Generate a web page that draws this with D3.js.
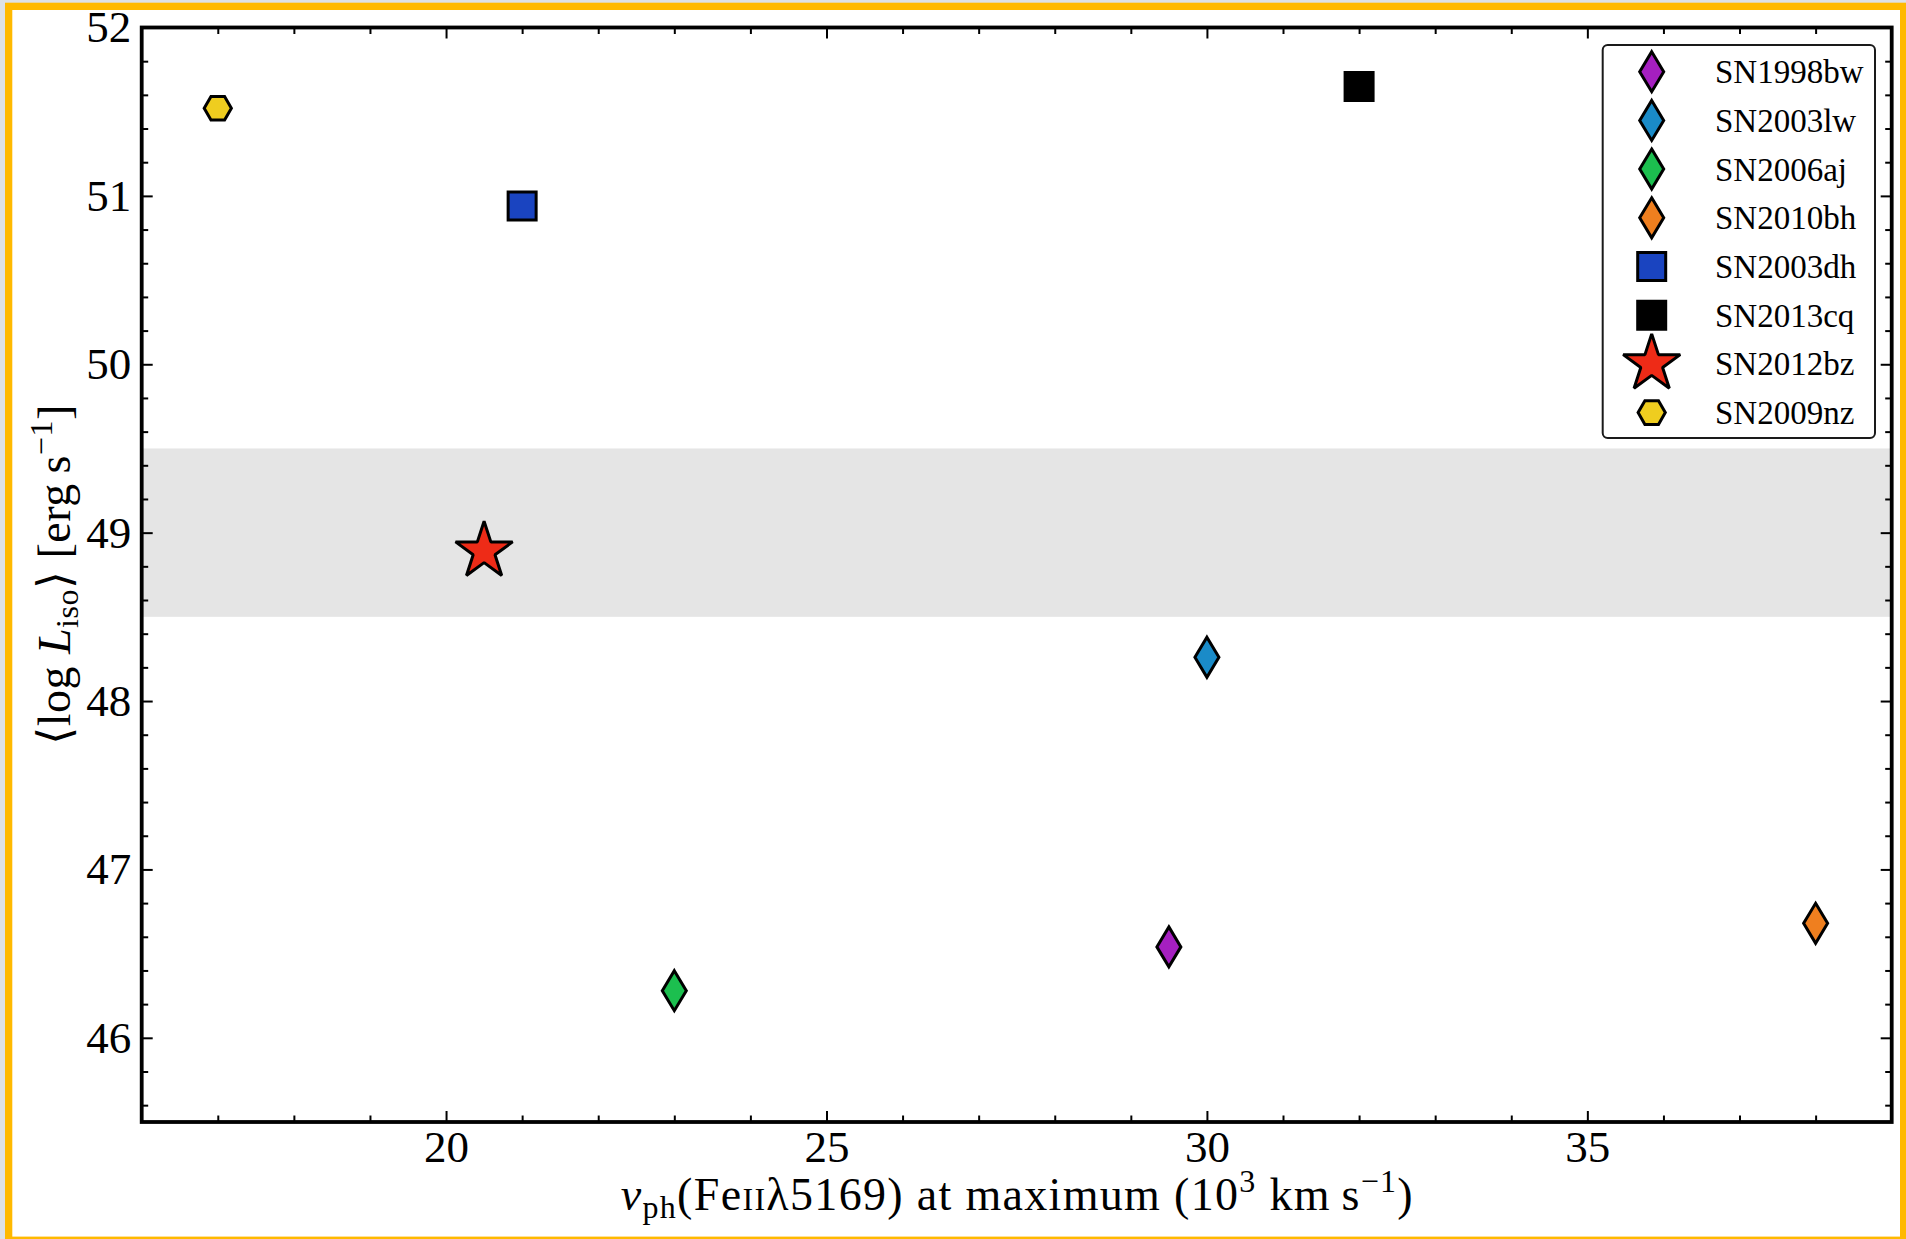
<!DOCTYPE html>
<html>
<head>
<meta charset="utf-8">
<script src="https://cdn.jsdelivr.net/npm/d3@7"></script>
<style>
  html, body { margin: 0; padding: 0; background: #dde1e6; }
  svg { display: block; }
  text { font-family: "Liberation Serif", "DejaVu Serif", serif; fill: #000; }
</style>
</head>
<body>
<svg id="chart" width="1906" height="1239"></svg>
<script>
// ---------------- data ----------------
const names = ["SN1998bw", "SN2003lw", "SN2006aj", "SN2010bh", "SN2003dh", "SN2013cq", "SN2012bz", "SN2009nz"];
const velocities = [29.5, 30.0, 23.0, 38.0, 21.0, 32.0, 20.5, 17.0];        // 10^3 km/s
const logLiso = [46.54, 48.26, 46.28, 46.68, 50.94, 51.65, 48.89, 51.52];   // erg/s
const markerShapes = ["diamond", "diamond", "diamond", "diamond", "square", "square", "star", "hexagon"];
const markerColors = ["#a51fc0", "#1a8bc8", "#1cbf4f", "#ef7f1f", "#1a44c0", "#000000", "#ee2b17", "#efcd1f"];
const xTickValues = [20, 25, 30, 35];
const yTickValues = [46, 47, 48, 49, 50, 51, 52];
const xDomain = [16, 39];
const yDomain = [45.5, 52];
const bandRange = [48.5, 49.5];

// ---------------- layout ----------------
const svg = d3.select("#chart");
const W = 1906, H = 1239;
const plot = { left: 141.7, right: 1891.7, top: 27.5, bottom: 1122 };

// outer orange frame
svg.append("rect").attr("x", 5).attr("y", 2.7).attr("width", W + 10).attr("height", H + 10).attr("fill", "#ffb900");
svg.append("rect").attr("x", 12.3).attr("y", 10).attr("width", 1900 - 12.3).attr("height", 1236.6 - 10).attr("fill", "#ffffff");

const x = d3.scaleLinear().domain(xDomain).range([plot.left, plot.right]);
const y = d3.scaleLinear().domain(yDomain).range([plot.bottom, plot.top]);

// grey band
svg.append("rect")
  .attr("x", x(xDomain[0])).attr("width", x(xDomain[1]) - x(xDomain[0]))
  .attr("y", y(bandRange[1])).attr("height", y(bandRange[0]) - y(bandRange[1]))
  .attr("fill", "#e5e5e5");

// minor tick values
const xMinor = d3.range(17, 39, 1).filter(v => !xTickValues.includes(v));
const yMinor = d3.range(456, 520, 2).map(v => v / 10).filter(v => !yTickValues.some(t => Math.abs(t - v) < 1e-6));

function styleAxis(g) {
  g.select(".domain").remove();
  g.selectAll(".tick line").attr("stroke", "#000").attr("stroke-width", 2);
  g.selectAll(".tick text").attr("font-size", 45).attr("font-family", '"Liberation Serif", "DejaVu Serif", serif');
}

const MAJ = 11, MIN = 6.5;
// bottom
svg.append("g").attr("transform", `translate(0,${plot.bottom})`)
  .call(d3.axisBottom(x).tickValues(xTickValues).tickSize(-MAJ).tickPadding(8).tickFormat(d3.format("d")))
  .call(styleAxis);
svg.append("g").attr("transform", `translate(0,${plot.bottom})`)
  .call(d3.axisBottom(x).tickValues(xMinor).tickSize(-MIN).tickFormat(""))
  .call(styleAxis);
// top
svg.append("g").attr("transform", `translate(0,${plot.top})`)
  .call(d3.axisTop(x).tickValues(xTickValues).tickSize(-MAJ).tickFormat(""))
  .call(styleAxis);
svg.append("g").attr("transform", `translate(0,${plot.top})`)
  .call(d3.axisTop(x).tickValues(xMinor).tickSize(-MIN).tickFormat(""))
  .call(styleAxis);
// left
svg.append("g").attr("transform", `translate(${plot.left},0)`)
  .call(d3.axisLeft(y).tickValues(yTickValues).tickSize(-MAJ).tickPadding(10.5).tickFormat(d3.format("d")))
  .call(styleAxis);
svg.append("g").attr("transform", `translate(${plot.left},0)`)
  .call(d3.axisLeft(y).tickValues(yMinor).tickSize(-MIN).tickFormat(""))
  .call(styleAxis);
// right
svg.append("g").attr("transform", `translate(${plot.right},0)`)
  .call(d3.axisRight(y).tickValues(yTickValues).tickSize(-MAJ).tickFormat(""))
  .call(styleAxis);
svg.append("g").attr("transform", `translate(${plot.right},0)`)
  .call(d3.axisRight(y).tickValues(yMinor).tickSize(-MIN).tickFormat(""))
  .call(styleAxis);

// ---------------- markers ----------------
function shapePath(shape) {
  if (shape === "diamond") return "M0,-20L12,0L0,20L-12,0Z";
  if (shape === "square") return "M-14,-14H14V14H-14Z";
  if (shape === "hexagon") {
    const R = 13.6;
    return d3.range(6).map((i, k) => {
      const a = i * Math.PI / 3;
      return (k ? "L" : "M") + (R * Math.cos(a)).toFixed(2) + "," + (R * Math.sin(a)).toFixed(2);
    }).join("") + "Z";
  }
  if (shape === "star") {
    const R = 30, r = R * 0.381966;
    return d3.range(10).map((i, k) => {
      const rad = i % 2 === 0 ? R : r;
      const a = -Math.PI / 2 + i * Math.PI / 5;
      return (k ? "L" : "M") + (rad * Math.cos(a)).toFixed(2) + "," + (rad * Math.sin(a)).toFixed(2);
    }).join("") + "Z";
  }
}
function joinFor(shape) { return shape === "star" ? "bevel" : "miter"; }

const pts = names.map((n, i) => ({ name: n, v: velocities[i], L: logLiso[i], shape: markerShapes[i], color: markerColors[i] }));

svg.append("g").selectAll("path").data(pts).join("path")
  .attr("transform", d => `translate(${x(d.v)},${y(d.L)})`)
  .attr("d", d => shapePath(d.shape))
  .attr("fill", d => d.color)
  .attr("stroke", "#000")
  .attr("stroke-width", 3)
  .attr("stroke-linejoin", d => joinFor(d.shape))
  .attr("stroke-miterlimit", 10);

// frame (spines)
svg.append("rect")
  .attr("x", plot.left).attr("y", plot.top)
  .attr("width", plot.right - plot.left).attr("height", plot.bottom - plot.top)
  .attr("fill", "none").attr("stroke", "#000").attr("stroke-width", 3.8);

// ---------------- legend ----------------
const leg = svg.append("g");
leg.append("rect")
  .attr("x", 1602.7).attr("y", 45).attr("width", 272.3).attr("height", 393)
  .attr("rx", 5).attr("ry", 5)
  .attr("fill", "#fff").attr("fill-opacity", 0.85)
  .attr("stroke", "#1a1a1a").attr("stroke-width", 2);
const rowY = i => 71.7 + i * 48.7;
const rows = leg.selectAll("g.row").data(pts).join("g").attr("class", "row")
  .attr("transform", (d, i) => `translate(0,${rowY(i)})`);
rows.append("path")
  .attr("transform", "translate(1651.7,0)")
  .attr("d", d => shapePath(d.shape))
  .attr("fill", d => d.color)
  .attr("stroke", "#000")
  .attr("stroke-width", 3)
  .attr("stroke-linejoin", d => joinFor(d.shape))
  .attr("stroke-miterlimit", 10);
rows.append("text")
  .attr("x", 1715).attr("y", 0).attr("dy", "0.35em")
  .attr("font-size", 33)
  .text(d => d.name);

// ---------------- axis labels ----------------
const xl = svg.append("text")
  .attr("x", (plot.left + plot.right) / 2).attr("y", 1210)
  .attr("text-anchor", "middle").attr("font-size", 46)
  .attr("textLength", 792).attr("lengthAdjust", "spacing");
xl.append("tspan").attr("font-style", "italic").text("v");
xl.append("tspan").attr("font-size", 32).attr("dy", 8).text("ph");
xl.append("tspan").attr("dy", -8).text("(Fe");
xl.append("tspan").attr("font-size", 32).text("II");
xl.append("tspan").text("λ5169) at maximum (10");
xl.append("tspan").attr("font-size", 32).attr("dy", -18).text("3");
xl.append("tspan").attr("dy", 18).text(" km\u2009s");
xl.append("tspan").attr("font-size", 32).attr("dy", -18).text("−1");
xl.append("tspan").attr("dy", 18).text(")");

const yl = svg.append("text")
  .attr("transform", `translate(70,${(plot.top + plot.bottom) / 2}) rotate(-90)`)
  .attr("text-anchor", "middle").attr("font-size", 46)
  .attr("textLength", 340).attr("lengthAdjust", "spacing");
yl.append("tspan").text("⟨log ");
yl.append("tspan").attr("font-style", "italic").text("L");
yl.append("tspan").attr("font-size", 32).attr("dy", 8).text("iso");
yl.append("tspan").attr("dy", -8).text("⟩ [erg\u2009s");
yl.append("tspan").attr("font-size", 32).attr("dy", -18).text("−1");
yl.append("tspan").attr("dy", 18).text("]");
</script>
</body>
</html>
